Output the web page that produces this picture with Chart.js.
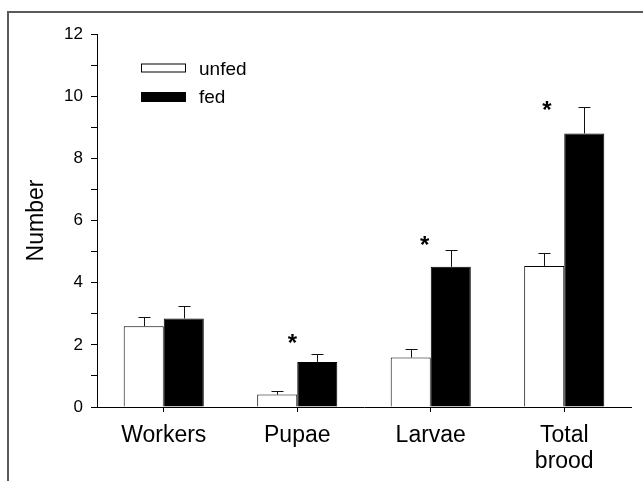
<!DOCTYPE html>
<html lang="en">
<head>
    <meta charset="UTF-8">
    <title>Number of workers and brood</title>
    <style>
        html, body{
            margin: 0;
            padding: 0;
            background-color: #fff;
        }
        .rahmen{
            position: absolute;
            left: 7px;
            top: 11px;
            width: 650px;
            height: 480px;
            border-left: 2px solid #5a5a5a;
            border-top: 2px solid #5a5a5a;
        }
        #diagramm{
            position: absolute;
            left: 0;
            top: 0;
        }
    </style>
</head>
<body>
    <div class="rahmen"></div>
    <canvas id="diagramm" width="643" height="481"></canvas>

    <script src="https://cdn.jsdelivr.net/npm/chart.js"></script>
    <script>
        // Daten
        const kategorien = ['Workers', 'Pupae', 'Larvae', ['Total', 'brood']];
        const unfed = [2.6, 0.4, 1.59, 4.54];
        const fed = [2.85, 1.45, 4.51, 8.8];
        const unfedFehler = [0.3, 0.1, 0.28, 0.4];
        const fedFehler = [0.39, 0.24, 0.54, 0.86];
        const sterne = [null, 2.2, 5.37, 9.69];
        const sternVersatz = [0, -0.037, -0.045, -0.13];
        const yTicks = [0, 2, 4, 6, 8, 10, 12];

        const schrift = "'Liberation Sans', Arial, sans-serif";

        // Fehlerbalken (nur nach oben) und Sterne
        const fehlerPlugin = {
            id: 'fehler',
            afterDatasetsDraw(chart) {
                const ctx = chart.ctx;
                const y = chart.scales.y;
                const x = chart.scales.x;
                const fehler = [unfedFehler, fedFehler];
                ctx.save();
                ctx.strokeStyle = '#111';
                ctx.lineWidth = 1;
                chart.data.datasets.forEach((ds, d) => {
                    chart.getDatasetMeta(d).data.forEach((bar, i) => {
                        const oben = y.getPixelForValue(ds.data[i] + fehler[d][i]);
                        const px = Math.round(bar.x) + 0.5;
                        const py = Math.round(oben) + 0.5;
                        ctx.beginPath();
                        ctx.moveTo(px, bar.y);
                        ctx.lineTo(px, py);
                        ctx.moveTo(px - 6, py);
                        ctx.lineTo(px + 6, py);
                        ctx.stroke();
                    });
                });

                ctx.fillStyle = '#000';
                ctx.font = 'bold 24px ' + schrift;
                ctx.textAlign = 'center';
                ctx.textBaseline = 'alphabetic';
                const m = ctx.measureText('*');
                const mitte = (m.actualBoundingBoxAscent - m.actualBoundingBoxDescent) / 2;
                sterne.forEach((s, i) => {
                    if (s === null) return;
                    const sx = x.getPixelForValue(i) + sternVersatz[i] * (x.width / kategorien.length);
                    ctx.fillText('*', sx, y.getPixelForValue(s) + mitte);
                });
                ctx.restore();
            }
        };

        // Legende oben links
        const legendePlugin = {
            id: 'legende',
            afterDraw(chart) {
                const ctx = chart.ctx;
                const zeilen = [[63.5, 9, 75], [92, 10, 103.3]];
                ctx.save();
                ctx.font = '19px ' + schrift;
                ctx.textBaseline = 'alphabetic';
                ctx.textAlign = 'left';
                chart.data.datasets.forEach((ds, d) => {
                    const [by, bh, ty] = zeilen[d];
                    ctx.fillStyle = ds.backgroundColor;
                    ctx.fillRect(141, by, 45, bh);
                    ctx.strokeStyle = '#000';
                    ctx.lineWidth = 1;
                    ctx.strokeRect(141.5, by + 0.5, 44, bh - 1);
                    ctx.fillStyle = '#000';
                    ctx.fillText(ds.label, 199, ty);
                });
                ctx.restore();
            }
        };

        new Chart(document.getElementById('diagramm'), {
            type: 'bar',
            data: {
                labels: kategorien,
                datasets: [{
                    label: 'unfed',
                    data: unfed,
                    backgroundColor: '#ffffff',
                    borderColor: '#000',
                    borderWidth: 1
                }, {
                    label: 'fed',
                    data: fed,
                    backgroundColor: '#000000',
                    borderColor: '#000',
                    borderWidth: 1
                }]
            },
            options: {
                responsive: false,
                animation: false,
                devicePixelRatio: 1,
                layout: {
                    padding: {top: 34, right: 12, left: 0, bottom: 0}
                },
                datasets: {
                    bar: {
                        barPercentage: 1,
                        categoryPercentage: 0.6
                    }
                },
                plugins: {
                    legend: {display: false},
                    tooltip: {enabled: false}
                },
                scales: {
                    x: {
                        afterFit(scale) { scale.height = 74; },
                        grid: {
                            display: true,
                            offset: false,
                            drawOnChartArea: false,
                            drawTicks: true,
                            tickLength: 5,
                            tickColor: '#000'
                        },
                        border: {display: true, color: '#000', width: 1},
                        ticks: {
                            color: '#000',
                            padding: 11,
                            maxRotation: 0,
                            autoSkip: false,
                            font: {family: schrift, size: 23, lineHeight: 1.13}
                        }
                    },
                    y: {
                        min: 0,
                        max: 12,
                        afterFit(scale) { scale.width = 97; },
                        afterBuildTicks(scale) {
                            const alle = [];
                            for (let v = 0; v <= 12; v++) alle.push({value: v});
                            scale.ticks = alle;
                        },
                        grid: {
                            display: true,
                            drawOnChartArea: false,
                            drawTicks: true,
                            tickLength: 6,
                            tickColor: '#000'
                        },
                        border: {display: true, color: '#000', width: 1},
                        ticks: {
                            color: '#000',
                            padding: 8,
                            autoSkip: false,
                            font: {family: schrift, size: 17},
                            callback: v => yTicks.includes(v) ? v : ''
                        },
                        title: {
                            display: true,
                            text: 'Number',
                            color: '#000',
                            padding: {top: 23, bottom: 0},
                            font: {family: schrift, size: 23}
                        }
                    }
                }
            },
            plugins: [fehlerPlugin, legendePlugin]
        });
    </script>
</body>
</html>
